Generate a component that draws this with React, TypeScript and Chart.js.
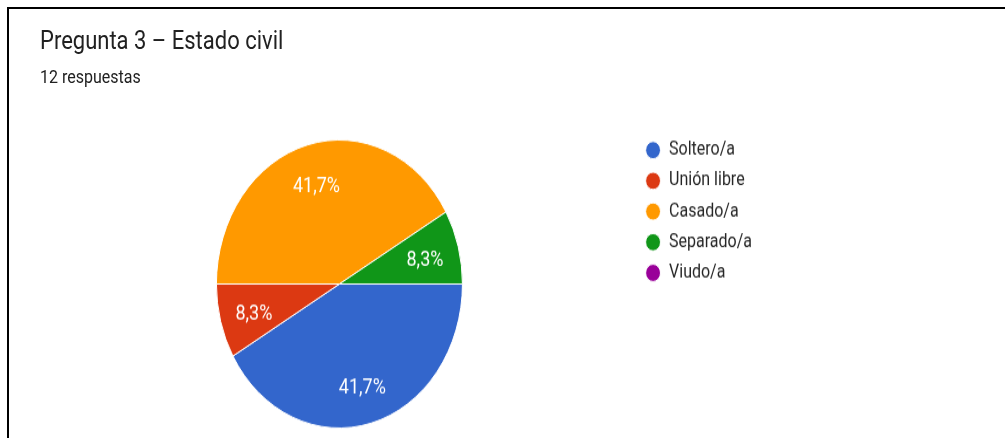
import React, { useEffect, useRef } from "react";
import { Chart, registerables } from "chart.js";

Chart.register(...registerables);

const TITLE = "Pregunta 3 – Estado civil";
const SUBTITLE = "12 respuestas";
const categories = ["Soltero/a", "Unión libre", "Casado/a", "Separado/a", "Viudo/a"];
const counts = [5, 1, 5, 1, 0];
const colors = ["#3366cc", "#dc3912", "#ff9900", "#109618", "#990099"];

const BASE_H = 374;
const SCALE_Y = 438 / BASE_H;
const LEGEND_SHIFT = 9;

const pieLabels = {
  id: "pieLabels",
  afterDatasetsDraw(chart: any) {
    const ctx = chart.ctx;
    const meta = chart.getDatasetMeta(0);
    const data = chart.data.datasets[0].data as number[];
    const total = data.reduce((a, b) => a + b, 0);
    ctx.save();
    ctx.font = "18px Roboto";
    ctx.fillStyle = "#ffffff";
    ctx.textAlign = "center";
    ctx.textBaseline = "middle";
    meta.data.forEach((arc: any, i: number) => {
      const v = data[i];
      if (!v) return;
      const p = arc.getProps(["x", "y", "startAngle", "endAngle", "outerRadius"], true);
      const mid = (p.startAngle + p.endAngle) / 2;
      const r = p.outerRadius * 0.72;
      const text = ((v / total) * 100).toFixed(1).replace(".", ",") + "%";
      ctx.fillText(text, p.x + Math.cos(mid) * r, p.y + Math.sin(mid) * r + 3);
    });
    ctx.restore();
  },
};

const legendShift = {
  id: "legendShift",
  afterLayout(chart: any) {
    const l = chart.legend;
    if (l) {
      l.top -= LEGEND_SHIFT;
      l.bottom -= LEGEND_SHIFT;
    }
  },
};

export default function App() {
  const canvasRef = useRef<HTMLCanvasElement | null>(null);

  useEffect(() => {
    document.body.style.margin = "0";
    document.body.style.background = "#ffffff";
    const canvas = canvasRef.current;
    if (!canvas) return;
    const chart = new Chart(canvas, {
      type: "pie",
      data: {
        labels: categories,
        datasets: [
          {
            data: counts,
            backgroundColor: colors,
            borderColor: "#ffffff",
            borderWidth: 1,
            hoverOffset: 0,
          },
        ],
      },
      options: {
        animation: false,
        responsive: true,
        maintainAspectRatio: false,
        rotation: 90,
        layout: { padding: { top: 119, bottom: 8, left: 44, right: 243 } },
        plugins: {
          legend: {
            position: "right",
            align: "start",
            labels: {
              usePointStyle: true,
              pointStyle: "circle",
              boxWidth: 16,
              boxHeight: 10.5,
              padding: 10.2,
              color: "#262626",
              font: { family: "Roboto", size: 16 },
            },
          },
          tooltip: { enabled: false },
          title: { display: false },
        },
      },
      plugins: [pieLabels, legendShift],
    });
    return () => chart.destroy();
  }, []);

  return (
    <div style={{ position: "relative", width: 1005, height: 438, overflow: "hidden", background: "#fff" }}>
      <div
        style={{
          position: "absolute",
          left: 0,
          top: 0,
          width: 1005,
          height: BASE_H,
          transform: `scaleY(${SCALE_Y})`,
          transformOrigin: "0 0",
        }}
      >
        <div
          style={{
            position: "absolute",
            left: 40,
            top: 24,
            fontFamily: "Roboto",
            fontSize: 22,
            lineHeight: "22px",
            color: "#212121",
            whiteSpace: "nowrap",
          }}
        >
          {TITLE}
        </div>
        <div
          style={{
            position: "absolute",
            left: 40,
            top: 58,
            fontFamily: "Roboto",
            fontSize: 16,
            lineHeight: "16px",
            color: "#212121",
            whiteSpace: "nowrap",
          }}
        >
          {SUBTITLE}
        </div>
        <div style={{ position: "absolute", left: 0, top: 0, width: 1005, height: BASE_H }}>
          <canvas ref={canvasRef} />
        </div>
      </div>
      <div
        style={{
          position: "absolute",
          left: 7,
          top: 7,
          width: 1010,
          height: 440,
          borderTop: "2px solid #000",
          borderLeft: "2px solid #000",
          boxSizing: "border-box",
        }}
      />
    </div>
  );
}
